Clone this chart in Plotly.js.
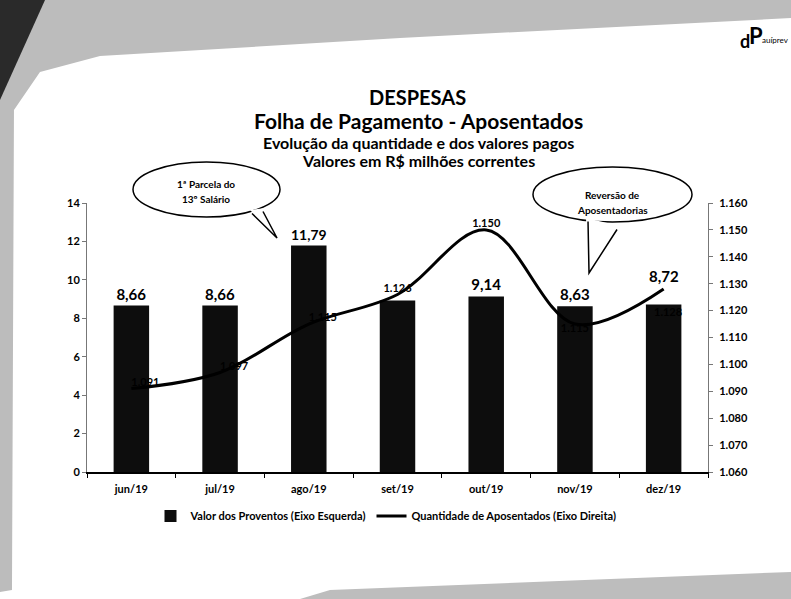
<!DOCTYPE html>
<html>
<head>
<meta charset="utf-8">
<script src="https://cdn.plot.ly/plotly-3.0.1.min.js"></script>
<style>
html,body{margin:0;padding:0;background:#fff;}
#chart{width:791px;height:599px;}
</style>
</head>
<body>
<div id="chart"></div>
<script>
// ---- data ----
const meses = ['jun/19','jul/19','ago/19','set/19','out/19','nov/19','dez/19'];
const valorProventos = [8.66, 8.66, 11.79, 8.93, 9.14, 8.63, 8.72];
const mostrarRotuloValor = [true, true, true, false, true, true, true];
const qtdAposentados = [1091, 1097, 1115, 1126, 1150, 1115, 1128];
const posRotuloQtd = ['top right','top right','top right','top center','top center','bottom center','bottom center'];
const ticksDireita = [1060,1070,1080,1090,1100,1110,1120,1130,1140,1150,1160];
const ticksEsquerda = [0,2,4,6,8,10,12,14];

// ---- layout geometry (pixels) ----
const W = 791, H = 599;
const L = 87, R = 708, T = 203, B = 472;
const px = x => (x - L) / (R - L);
const py = y => (B - y) / (B - T);
const FONT = 'Lato, "Open Sans", sans-serif';
const last = meses.length - 1;

function pathFrom(points, close) {
  return points.map((p, i) => (i ? 'L' : 'M') + px(p[0]).toFixed(4) + ',' + py(p[1]).toFixed(4)).join(' ') + (close ? ' Z' : '');
}

const traces = [
  {
    type: 'bar', name: '<b>Valor dos Proventos (Eixo Esquerda)</b>',
    x: meses, y: valorProventos, yaxis: 'y',
    marker: {color: '#0d0d0d'},
    // the last label is lifted above the line (annotation below)
    texttemplate: mostrarRotuloValor.map((s, i) => (s && i !== last) ? '<b>%{y:.2f}</b>' : ''),
    textposition: 'outside', cliponaxis: false,
    textfont: {family: FONT, size: 15, color: '#000'},
    hoverinfo: 'skip'
  },
  {
    type: 'scatter', mode: 'lines+text', name: '<b>Quantidade de Aposentados (Eixo Direita)</b>',
    x: meses, y: qtdAposentados, yaxis: 'y2',
    line: {color: '#000', width: 3, shape: 'spline', smoothing: 1},
    texttemplate: meses.map((m, i) => i !== last ? '<b>%{y:,d}</b>' : ''),
    textposition: posRotuloQtd, cliponaxis: false,
    textfont: {family: FONT, size: 11, color: '#000'},
    hoverinfo: 'skip'
  }
];

// background scan decoration + callouts
const shapes = [
  {type: 'path', xref: 'paper', yref: 'paper', layer: 'below', line: {width: 0}, fillcolor: '#bcbcbc',
   path: pathFrom([[0,0],[W,0],[W,18],[400,38],[100,56],[40,72],[14,110],[12,590],[0,592]], true)},
  {type: 'path', xref: 'paper', yref: 'paper', layer: 'below', line: {width: 0}, fillcolor: '#2a2a2a',
   path: pathFrom([[0,0],[45,0],[0,100]], true)},
  {type: 'path', xref: 'paper', yref: 'paper', layer: 'below', line: {width: 0}, fillcolor: '#bdbdbd',
   path: pathFrom([[300,H],[330,590],[W,572],[W,H]], true)},
  // callout 1
  {type: 'circle', xref: 'paper', yref: 'paper', layer: 'above', line: {color: '#000', width: 1.5}, fillcolor: '#fff',
   x0: px(133), x1: px(280), y0: py(162), y1: py(217)},
  {type: 'path', xref: 'paper', yref: 'paper', layer: 'above', line: {width: 0}, fillcolor: '#fff',
   path: pathFrom([[250,210],[277,238],[265,208]], true)},
  {type: 'path', xref: 'paper', yref: 'paper', layer: 'above', line: {color: '#000', width: 1.5},
   path: pathFrom([[252,213.5],[277,238],[263,211.5]], false)},
  // callout 2
  {type: 'circle', xref: 'paper', yref: 'paper', layer: 'above', line: {color: '#000', width: 1.5}, fillcolor: '#fff',
   x0: px(533), x1: px(692), y0: py(167), y1: py(222)},
  {type: 'path', xref: 'paper', yref: 'paper', layer: 'above', line: {width: 0}, fillcolor: '#fff',
   path: pathFrom([[586,218],[589,273],[620,226]], true)},
  {type: 'path', xref: 'paper', yref: 'paper', layer: 'above', line: {color: '#000', width: 1.5},
   path: pathFrom([[588,221.5],[589,273],[617,229.5]], false)}
];

const paperNotes = [
  {text: '<b>DESPESAS</b>', x: px(417), y: py(97), font: {size: 20}},
  {text: '<b>Folha de Pagamento - Aposentados</b>', x: px(418), y: py(121), font: {size: 21}},
  {text: '<b>Evolução da quantidade e dos valores pagos</b>', x: px(418), y: py(142), font: {size: 16}},
  {text: '<b>Valores em R$ milhões correntes</b>', x: px(418), y: py(160), font: {size: 16}},
  {text: '<b>1ª Parcela do</b>', x: px(206), y: py(184), font: {size: 10}},
  {text: '<b>13º Salário</b>', x: px(206), y: py(199), font: {size: 10}},
  {text: '<b>Reversão de</b>', x: px(612), y: py(195), font: {size: 10}},
  {text: '<b>Aposentadorias</b>', x: px(612), y: py(210), font: {size: 10}},
  {text: '<b>P</b>', x: px(756), y: py(35), font: {size: 22}},
  {text: '<b>d</b>', x: px(745), y: py(41), font: {size: 18}},
  {text: 'auíprev', x: px(775), y: py(40), font: {size: 8}}
].map(a => Object.assign({xref: 'paper', yref: 'paper', showarrow: false, xanchor: 'center', yanchor: 'middle'},
  a, {font: Object.assign({family: FONT, color: '#000'}, a.font)}));

// data-anchored labels for the last month (moved as in the reference)
const dataNotes = [
  {xref: 'x', yref: 'y', x: meses[last], y: valorProventos[last], showarrow: false,
   xanchor: 'center', yanchor: 'bottom', yshift: 17,
   text: '<b>' + valorProventos[last].toFixed(2).replace('.', ',') + '</b>',
   font: {family: FONT, size: 15, color: '#000'}},
  {xref: 'x', yref: 'y2', x: meses[last], y: qtdAposentados[last], showarrow: false,
   xanchor: 'center', yanchor: 'top', yshift: -14, xshift: 4,
   text: '<b>' + Math.floor(qtdAposentados[last] / 1000) + '.' + String(qtdAposentados[last] % 1000).padStart(3, '0') + '</b>',
   font: {family: FONT, size: 11, color: '#000'}}
];

const tickFont = {family: FONT, size: 11, weight: 700, color: '#000'};

const layout = {
  width: W, height: H,
  margin: {l: L, r: W - R, t: T, b: H - B, pad: 0},
  paper_bgcolor: '#ffffff', plot_bgcolor: 'rgba(0,0,0,0)',
  separators: ',.',
  showlegend: true,
  bargap: 0.6,
  font: {family: FONT, color: '#000'},
  xaxis: {
    type: 'category', showgrid: false, zeroline: false,
    showline: true, linecolor: '#000', linewidth: 1.5,
    ticks: 'outside', ticklen: 4, tickcolor: '#000', tickson: 'boundaries',
    ticklabelstandoff: 6,
    tickfont: tickFont,
    fixedrange: true
  },
  yaxis: {
    range: [0, 14], tickvals: ticksEsquerda, showgrid: false, zeroline: false,
    showline: true, linecolor: '#777', linewidth: 1,
    ticks: 'outside', ticklen: 4, tickcolor: '#777',
    tickfont: tickFont,
    fixedrange: true
  },
  yaxis2: {
    overlaying: 'y', side: 'right', range: [1060, 1160], tickvals: ticksDireita, tickformat: ',d',
    showgrid: false, zeroline: false,
    showline: true, linecolor: '#777', linewidth: 1,
    ticks: 'outside', ticklen: 4, tickcolor: '#777', ticklabelstandoff: 4,
    tickfont: tickFont,
    fixedrange: true
  },
  legend: {
    orientation: 'h', x: px(386), xanchor: 'center', y: py(516), yanchor: 'middle',
    font: {family: FONT, size: 11, color: '#000'},
    bgcolor: 'rgba(0,0,0,0)', itemwidth: 30, tracegroupgap: 0
  },
  shapes: shapes,
  annotations: paperNotes.concat(dataNotes)
};

Plotly.newPlot('chart', traces, layout, {displayModeBar: false, staticPlot: true});
</script>
</body>
</html>
